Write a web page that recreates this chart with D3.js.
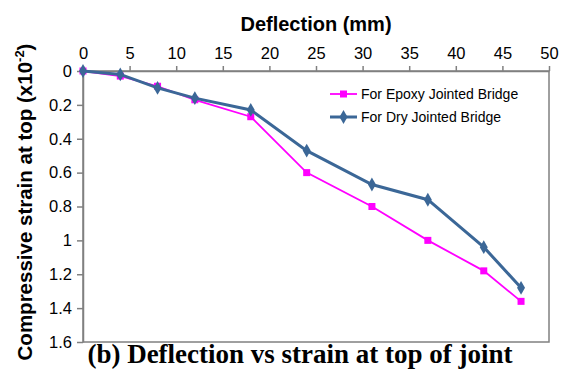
<!DOCTYPE html>
<html>
<head>
<meta charset="utf-8">
<script src="https://cdn.jsdelivr.net/npm/d3@7"></script>
<style>
  body { margin: 0; background: #fff; }
  svg { display: block; }
</style>
</head>
<body>
<script>
// deflection (mm) readings and compressive strain at top (x10^-2)
var deflection = [0, 4, 8, 12, 18, 24, 31, 37, 43, 47];
var epoxyStrain = [0, 0.03, 0.09, 0.17, 0.27, 0.60, 0.80, 1.00, 1.18, 1.36];
var dryStrain = [0, 0.02, 0.10, 0.16, 0.23, 0.47, 0.67, 0.76, 1.04, 1.28];
var xTicks = [0, 5, 10, 15, 20, 25, 30, 35, 40, 45, 50];
var yTicks = [0, 0.2, 0.4, 0.6, 0.8, 1, 1.2, 1.4, 1.6];
var seriesNames = ["For Epoxy Jointed Bridge", "For Dry Jointed Bridge"];

var W = 561, H = 374;
var plotL = 83, plotR = 549, plotT = 71, plotB = 342;

var svg = d3.select("body").append("svg").attr("width", W).attr("height", H);

var x = d3.scaleLinear().domain([0, 50]).range([plotL, plotR]);
var y = d3.scaleLinear().domain([0, 1.6]).range([plotT, plotB]);

var axisColor = "#808080";

// frame (right and bottom)
svg.append("rect")
  .attr("x", plotL).attr("y", plotT)
  .attr("width", plotR - plotL).attr("height", plotB - plotT)
  .attr("fill", "none").attr("stroke", axisColor).attr("stroke-width", 1.5);

var xAxis = svg.append("g")
  .attr("transform", "translate(0," + plotT + ")")
  .call(d3.axisTop(x).tickValues(xTicks).tickSize(5).tickSizeOuter(0).tickPadding(7));
var yAxis = svg.append("g")
  .attr("transform", "translate(" + plotL + ",0)")
  .call(d3.axisLeft(y).tickValues(yTicks).tickSize(6).tickSizeOuter(0).tickPadding(5)
    .tickFormat(function (d) { return String(+d.toFixed(1)); }));

[xAxis, yAxis].forEach(function (a) {
  a.selectAll("path, line").attr("stroke", axisColor).attr("stroke-width", 1.5);
  a.selectAll("text")
    .attr("fill", "#000")
    .style("font-family", "Liberation Sans, Arial, sans-serif")
    .style("font-size", "16.5px");
});

// axis titles
svg.append("text")
  .attr("x", 316).attr("y", 31)
  .attr("text-anchor", "middle")
  .style("font-family", "Liberation Sans, Arial, sans-serif")
  .style("font-weight", "bold").style("font-size", "20px")
  .text("Deflection (mm)");

var yt = svg.append("text")
  .attr("transform", "translate(32,202) rotate(-90)")
  .attr("text-anchor", "middle")
  .style("font-family", "Liberation Sans, Arial, sans-serif")
  .style("font-weight", "bold").style("font-size", "20.5px");
yt.append("tspan").text("Compressive strain at top (x10");
yt.append("tspan").attr("dy", -8).style("font-size", "13px").text("-2");
yt.append("tspan").attr("dy", 8).text(")");

// caption
svg.append("text")
  .attr("x", 300).attr("y", 363)
  .attr("text-anchor", "middle")
  .style("font-family", "Liberation Serif, 'Times New Roman', serif")
  .style("font-weight", "bold").style("font-size", "27px")
  .text("(b) Deflection vs strain at top of joint");

var line = d3.line()
  .x(function (d) { return x(d[0]); })
  .y(function (d) { return y(d[1]); });

var epoxy = deflection.map(function (d, i) { return [d, epoxyStrain[i]]; });
var dry = deflection.map(function (d, i) { return [d, dryStrain[i]]; });

var epoxyColor = "#ff00ff", dryColor = "#3b6797";

svg.append("path").datum(epoxy)
  .attr("d", line).attr("fill", "none")
  .attr("stroke", epoxyColor).attr("stroke-width", 1.8);
svg.selectAll(".sq").data(epoxy).enter().append("rect")
  .attr("x", function (d) { return x(d[0]) - 3.5; })
  .attr("y", function (d) { return y(d[1]) - 3.5; })
  .attr("width", 7).attr("height", 7)
  .attr("fill", epoxyColor);

svg.append("path").datum(dry)
  .attr("d", line).attr("fill", "none")
  .attr("stroke", dryColor).attr("stroke-width", 3);
var diamond = d3.symbol().type(d3.symbolDiamond).size(55);
svg.selectAll(".dm").data(dry).enter().append("path")
  .attr("d", diamond)
  .attr("transform", function (d) { return "translate(" + x(d[0]) + "," + y(d[1]) + ")"; })
  .attr("fill", dryColor);

// legend
var legend = svg.append("g");
[[epoxyColor, 94, "sq"], [dryColor, 117, "dm"]].forEach(function (s, i) {
  var g = legend.append("g").attr("transform", "translate(0," + s[1] + ")");
  g.append("line").attr("x1", 330).attr("x2", 357)
    .attr("stroke", s[0]).attr("stroke-width", i === 0 ? 1.8 : 3);
  if (s[2] === "sq") {
    g.append("rect").attr("x", 340).attr("y", -3.5).attr("width", 7).attr("height", 7).attr("fill", s[0]);
  } else {
    g.append("path").attr("d", diamond).attr("transform", "translate(343.5,0)").attr("fill", s[0]);
  }
  g.append("text").attr("x", 361).attr("y", 5)
    .style("font-family", "Liberation Sans, Arial, sans-serif")
    .style("font-size", "14px")
    .text(seriesNames[i]);
});
</script>
</body>
</html>
